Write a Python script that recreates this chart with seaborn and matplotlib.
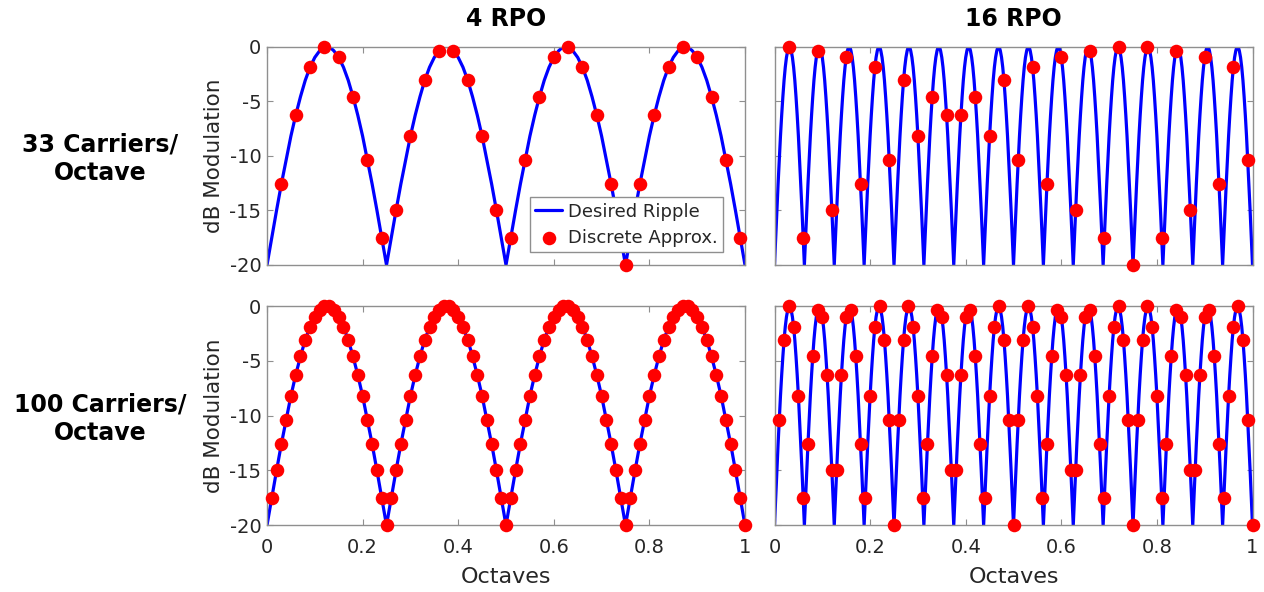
import numpy as np
import pandas as pd
import matplotlib
matplotlib.use("Agg")
import matplotlib.pyplot as plt
import seaborn as sns
from matplotlib.ticker import FormatStrFormatter

# ---- data -------------------------------------------------------------
ripple_rates = [4, 16]            # ripples per octave (columns)
carrier_densities = [33, 100]     # carriers per octave (rows)
carrier_spacing = {33: 0.03, 100: 0.01}   # octaves between neighbouring carriers

# one ripple cycle (trough to trough) of the desired modulation, in dB
ripple_cycle_db = [-20.0, -17.5, -15.0, -12.6, -10.4, -8.2, -6.3, -4.6, -3.1, -1.9, -1.0, -0.4, 0.0,
                   0.0, -0.4, -1.0, -1.9, -3.1, -4.6, -6.3, -8.2, -10.4, -12.6, -15.0, -17.5, -20.0]

# carrier levels (dB), first carrier one spacing above 0 octaves
approx_33_4rpo = [-12.6, -6.3, -1.9, 0.0, -1.0, -4.6, -10.4, -17.5, -15.0, -8.2, -3.1,
                  -0.4, -0.4, -3.1, -8.2, -15.0, -17.5, -10.4, -4.6, -1.0, 0.0, -1.9,
                  -6.3, -12.6, -20.0, -12.6, -6.3, -1.9, 0.0, -1.0, -4.6, -10.4, -17.5]

approx_33_16rpo = [0.0, -17.5, -0.4, -15.0, -1.0, -12.6, -1.9, -10.4, -3.1, -8.2, -4.6,
                   -6.3, -6.3, -4.6, -8.2, -3.1, -10.4, -1.9, -12.6, -1.0, -15.0, -0.4,
                   -17.5, 0.0, -20.0, 0.0, -17.5, -0.4, -15.0, -1.0, -12.6, -1.9, -10.4]

approx_100_4rpo = [
    -17.5, -15.0, -12.6, -10.4, -8.2, -6.3, -4.6, -3.1, -1.9, -1.0, -0.4, 0.0, 0.0,
    -0.4, -1.0, -1.9, -3.1, -4.6, -6.3, -8.2, -10.4, -12.6, -15.0, -17.5, -20.0,
    -17.5, -15.0, -12.6, -10.4, -8.2, -6.3, -4.6, -3.1, -1.9, -1.0, -0.4, 0.0, 0.0,
    -0.4, -1.0, -1.9, -3.1, -4.6, -6.3, -8.2, -10.4, -12.6, -15.0, -17.5, -20.0,
    -17.5, -15.0, -12.6, -10.4, -8.2, -6.3, -4.6, -3.1, -1.9, -1.0, -0.4, 0.0, 0.0,
    -0.4, -1.0, -1.9, -3.1, -4.6, -6.3, -8.2, -10.4, -12.6, -15.0, -17.5, -20.0,
    -17.5, -15.0, -12.6, -10.4, -8.2, -6.3, -4.6, -3.1, -1.9, -1.0, -0.4, 0.0, 0.0,
    -0.4, -1.0, -1.9, -3.1, -4.6, -6.3, -8.2, -10.4, -12.6, -15.0, -17.5, -20.0,
]

approx_100_16rpo = [
    -10.4, -3.1, 0.0, -1.9, -8.2, -17.5, -12.6, -4.6, -0.4, -1.0, -6.3, -15.0, -15.0,
    -6.3, -1.0, -0.4, -4.6, -12.6, -17.5, -8.2, -1.9, 0.0, -3.1, -10.4, -20.0,
    -10.4, -3.1, 0.0, -1.9, -8.2, -17.5, -12.6, -4.6, -0.4, -1.0, -6.3, -15.0, -15.0,
    -6.3, -1.0, -0.4, -4.6, -12.6, -17.5, -8.2, -1.9, 0.0, -3.1, -10.4, -20.0,
    -10.4, -3.1, 0.0, -1.9, -8.2, -17.5, -12.6, -4.6, -0.4, -1.0, -6.3, -15.0, -15.0,
    -6.3, -1.0, -0.4, -4.6, -12.6, -17.5, -8.2, -1.9, 0.0, -3.1, -10.4, -20.0,
    -10.4, -3.1, 0.0, -1.9, -8.2, -17.5, -12.6, -4.6, -0.4, -1.0, -6.3, -15.0, -15.0,
    -6.3, -1.0, -0.4, -4.6, -12.6, -17.5, -8.2, -1.9, 0.0, -3.1, -10.4, -20.0,
]

approx_levels = {
    (33, 4): approx_33_4rpo,
    (33, 16): approx_33_16rpo,
    (100, 4): approx_100_4rpo,
    (100, 16): approx_100_16rpo,
}

col_titles = ["4 RPO", "16 RPO"]
row_titles = ["33 Carriers/\nOctave", "100 Carriers/\nOctave"]
legend_labels = ["Desired Ripple", "Discrete Approx."]
x_ticks = [0, 0.2, 0.4, 0.6, 0.8, 1]
y_ticks = [-20, -15, -10, -5, 0]


def ripple_frame(rpo):
    cycle = np.asarray(ripple_cycle_db)
    level = np.concatenate([np.tile(cycle[:-1], rpo), cycle[-1:]])
    return pd.DataFrame({"Octaves": np.linspace(0, 1, len(level)), "dB": level})


def carrier_frame(density, rpo):
    level = np.asarray(approx_levels[(density, rpo)])
    pos = carrier_spacing[density] * np.arange(1, len(level) + 1)
    return pd.DataFrame({"Octaves": pos, "dB": level})


# ---- style ------------------------------------------------------------
sns.set_style("ticks")
plt.rcParams["font.family"] = ["DejaVu Sans"]
plt.rcParams["axes.unicode_minus"] = False

SPINE = "#8f8f8f"
TEXT = "#262626"

W, H = 1264, 592
fig = plt.figure(figsize=(W / 100, H / 100), dpi=100)

col_px = [(267, 745), (774.5, 1252.5)]
row_px = [(46.5, 265), (306, 525.3)]

for r, density in enumerate(carrier_densities):
    for c, rpo in enumerate(ripple_rates):
        x0, x1 = col_px[c]
        y0, y1 = row_px[r]
        ax = fig.add_axes([x0 / W, 1 - y1 / H, (x1 - x0) / W, (y1 - y0) / H])

        sns.lineplot(data=ripple_frame(rpo), x="Octaves", y="dB", ax=ax,
                     color=(0, 0, 1), linewidth=2.3, estimator=None, sort=False,
                     legend=False, zorder=2)
        sns.scatterplot(data=carrier_frame(density, rpo), x="Octaves", y="dB", ax=ax,
                        color=(1, 0, 0), s=95, linewidth=0,
                        legend=False, zorder=3, clip_on=False)

        ax.set_xlim(0, 1)
        ax.set_ylim(-20, 0)
        ax.set_xticks(x_ticks)
        ax.set_yticks(y_ticks)
        ax.xaxis.set_major_formatter(FormatStrFormatter("%g"))
        ax.yaxis.set_major_formatter(FormatStrFormatter("%g"))
        ax.tick_params(direction="in", length=4, width=0.8, color=SPINE,
                       top=True, right=True, labelsize=14, labelcolor=TEXT)
        ax.tick_params(axis="x", pad=9)
        ax.tick_params(axis="y", pad=4)
        for sp in ax.spines.values():
            sp.set_color(SPINE)
            sp.set_linewidth(1.0)
            sp.set_visible(True)

        if c == 0:
            ax.set_ylabel("dB Modulation", fontsize=15.5, color=TEXT, labelpad=4)
        else:
            ax.set_ylabel("")
            ax.tick_params(axis="y", labelleft=False)
        if r == 1:
            ax.set_xlabel("Octaves", fontsize=16, color=TEXT, labelpad=7)
        else:
            ax.set_xlabel("")
            ax.tick_params(axis="x", labelbottom=False)

        if r == 0 and c == 0:
            handles = [ax.lines[0], ax.collections[0]]
            leg = ax.legend(handles, legend_labels,
                            loc="lower right", bbox_to_anchor=(0.954, 0.058),
                            borderaxespad=0, fontsize=13, frameon=True,
                            fancybox=False, framealpha=1, edgecolor=SPINE,
                            handlelength=1.5, handletextpad=0.3, borderpad=0.3,
                            labelspacing=0.45)
            leg.get_frame().set_linewidth(1.0)
            leg.set_zorder(5)

        if r == 0:
            fig.text((x0 + x1) / 2 / W, 1 - 26 / H, col_titles[c], ha="center",
                     va="baseline", fontsize=17, fontweight="bold", color="black")

    fig.text(100 / W, 1 - ((row_px[r][0] + row_px[r][1]) / 2 + 3) / H, row_titles[r],
             ha="center", va="center", multialignment="center", fontsize=17,
             fontweight="bold", color="black", linespacing=1.2)

fig.savefig("out.png", dpi=100, facecolor="white")
